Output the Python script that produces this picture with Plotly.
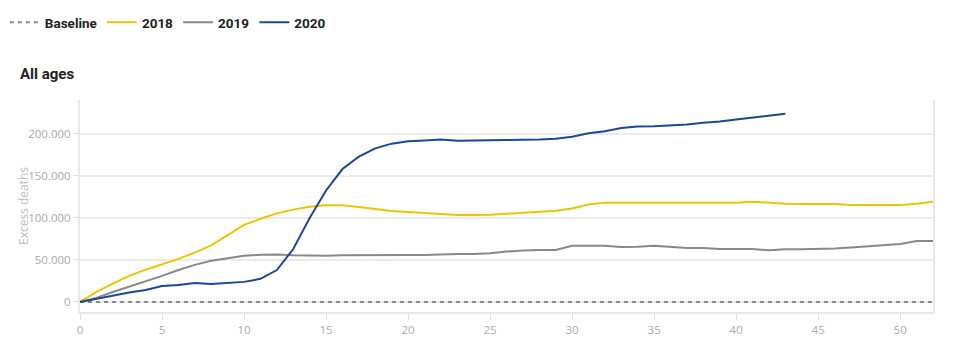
import plotly.graph_objects as go

weeks_2018 = list(range(0, 53))
vals_2018 = [0, 12000, 21800, 31000, 38300, 44400, 51200, 58500, 67300, 79400,
             91500, 98800, 105200, 109700, 113000, 115000, 114800, 112800, 110400, 108000,
             106800, 105600, 104400, 103400, 103400, 103600, 104800, 106000, 107000, 108400,
             111000, 115800, 118000, 117800, 117800, 117800, 117800, 117800, 117800, 117800,
             117800, 119000, 117800, 116800, 116500, 116500, 116500, 115200, 115200, 115200,
             115200, 116800, 119200]

weeks_2019 = list(range(0, 53))
vals_2019 = [0, 4800, 11700, 18100, 23800, 31000, 37900, 44000, 48800, 52000,
             54800, 56000, 56300, 55400, 55000, 54800, 55400, 55700, 55700, 55700,
             55700, 55800, 56500, 56900, 56900, 57800, 59800, 61200, 61600, 61600,
             66800, 66800, 66800, 65400, 65600, 66800, 65400, 64000, 64000, 62800,
             62800, 62800, 61400, 62600, 62600, 62600, 63400, 64800, 66000, 67600,
             68800, 72400, 72400]

weeks_2020 = list(range(0, 44))
vals_2020 = [0, 4000, 8000, 11300, 14100, 19000, 20200, 22600, 21400, 22200,
             23800, 27400, 37900, 62900, 99600, 132500, 157900, 172600, 182500, 188100,
             190900, 192000, 192900, 191700, 191700, 191700, 192500, 192700, 192900, 194000,
             196400, 200400, 202800, 206800, 208400, 208800, 209600, 211000, 213000, 214400,
             216700, 219100, 221500, 223600]

baseline_x = [0, 52]
baseline_y = [0, 0]

y_ticks = [0, 50000, 100000, 150000, 200000]
x_ticks = [0, 5, 10, 15, 20, 25, 30, 35, 40, 45, 50]

fig = go.Figure()
fig.add_trace(go.Scatter(x=baseline_x, y=baseline_y, mode="lines", name="Baseline",
                         line=dict(color="#8a8a8a", width=2, dash="4px,4px")))
fig.add_trace(go.Scatter(x=weeks_2018, y=vals_2018, mode="lines", name="2018",
                         line=dict(color="#f0c300", width=2)))
fig.add_trace(go.Scatter(x=weeks_2019, y=vals_2019, mode="lines", name="2019",
                         line=dict(color="#888888", width=2)))
fig.add_trace(go.Scatter(x=weeks_2020, y=vals_2020, mode="lines", name="2020",
                         line=dict(color="#1a46a0", width=2)))

fig.update_layout(
    width=962, height=354,
    margin=dict(l=80, r=29, t=100, b=42),
    paper_bgcolor="white", plot_bgcolor="white",
    separators=",.",
    font=dict(family="Open Sans, sans-serif", color="#aaaaaa", size=12),
    showlegend=True,
    legend=dict(orientation="h", xref="container", yref="container",
                x=0.005, y=1 - 7/354, xanchor="left", yanchor="top",
                font=dict(family="Roboto, sans-serif", size=13.5, color="#222222", weight="bold"),
                itemwidth=30, traceorder="normal"),
    title=dict(text="<b>All ages</b>", xref="container", yref="container",
               x=20/962, y=1-74/354, xanchor="left", yanchor="middle",
               font=dict(family="Roboto, sans-serif", size=15, color="#222222")),
    annotations=[dict(text="Excess deaths", xref="paper", yref="paper",
                      x=-(80-23)/853, y=0.5, xanchor="center", yanchor="middle",
                      textangle=-90, showarrow=False,
                      font=dict(family="Open Sans, sans-serif", size=12, color="#c0c0c0"))],
    hovermode=False,
)
fig.update_xaxes(range=[0, 52], tickvals=x_ticks, showgrid=False, zeroline=False,
                 showline=True, linecolor="#e8e8e8", linewidth=2, automargin=False,
                 ticks="outside", ticklen=6, tickcolor="#e0e0e0", tickwidth=1,
                 tickfont=dict(size=11.5, color="#aaaaaa"))
fig.update_yaxes(range=[-12000, 240000], tickvals=y_ticks, tickformat=",d",
                 showgrid=True, gridcolor="#ebebeb", gridwidth=2, zeroline=False,
                 showline=True, mirror=True, linecolor="#e8e8e8", linewidth=2, automargin=False,
                 ticks="outside", ticklen=5, tickcolor="#e0e0e0",
                 tickfont=dict(size=11.5, color="#aaaaaa"))

fig.write_html("out.html")
